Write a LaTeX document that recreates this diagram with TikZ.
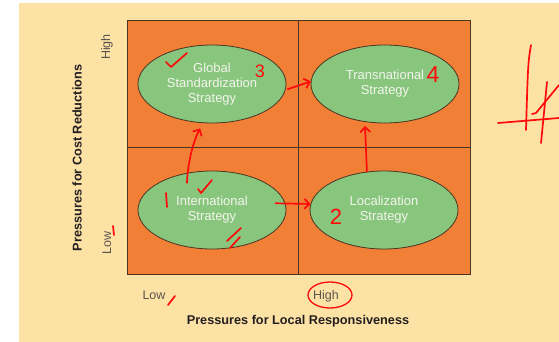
\documentclass[tikz,border=0pt]{standalone}
\usepackage{fontspec}
\setmainfont{Liberation Sans}
\usetikzlibrary{shapes.geometric,arrows.meta}
\definecolor{beige}{HTML}{FDE2A6}
\definecolor{orng}{HTML}{F27F36}
\definecolor{grn}{HTML}{88C67E}
\definecolor{edgebrown}{HTML}{4A3522}
\definecolor{txtw}{HTML}{F4F4EC}
\definecolor{axisgray}{HTML}{5A5550}
\definecolor{ink}{HTML}{FF0A0A}
\definecolor{darktxt}{HTML}{231F20}
\begin{document}
\begin{tikzpicture}[x=1pt,y=-1pt,
  strat/.style={ellipse,draw=edgebrown,fill=grn,line width=0.8pt,minimum width=148pt,minimum height=78pt,inner sep=0pt,align=center,text=txtw,font=\fontsize{13}{15}\selectfont},
  axislabel/.style={font=\fontsize{12.7}{14}\selectfont\bfseries,text=darktxt},
  lvl/.style={font=\fontsize{12.5}{14}\selectfont,text=axisgray},
  pen/.style={draw=ink,line width=1.7pt,line cap=round,line join=round},
  penarrow/.style={pen,-{Straight Barb[length=5pt,width=10pt]}},
  numtxt/.style={text=ink,inner sep=0pt}]
\useasboundingbox (0,0) rectangle (559,342);
\fill[white] (0,0) rectangle (559,342);
\fill[beige] (19,3) rectangle (559,342);
\draw[edgebrown,fill=orng,line width=0.8pt] (127,20) rectangle (470,274);
\draw[edgebrown,line width=0.8pt] (298,20) -- (298,274);
\draw[edgebrown,line width=0.8pt] (127,147) -- (470,147);
\node[strat] (glob) at (212,84) {Global\\Standardization\\Strategy};
\node[strat] (trans) at (385,84) {Transnational\\Strategy};
\node[strat] (intl) at (212,210) {International\\Strategy};
\node[strat] (loc) at (384,210) {Localization\\Strategy};
\node[axislabel,rotate=90] (ylab) at (77,158) {Pressures for Cost Reductions};
\node[axislabel] (xlab) at (298,321) {Pressures for Local Responsiveness};
\node[lvl,rotate=90] (yhigh) at (107,47) {High};
\node[lvl,rotate=90] (ylow) at (107,243) {Low};
\node[lvl] (xlow) at (154,295) {Low};
\node[lvl] (xhigh) at (326,296) {High};
% red annotations
\draw[penarrow,shorten >=6pt] ([yshift=-10pt]intl.124) .. controls +(1,-25) and +(-8,15) .. (glob.257);
\draw[penarrow] ([xshift=2pt]glob.-4) -- (trans.178);
\draw[penarrow] ([xshift=-10pt,yshift=0.3pt]intl.5) -- ([yshift=-0.4pt]loc.175);
\draw[penarrow,shorten >=4pt] (loc.114) -- (trans.242);
\draw[pen] (166,62) -- (171,67) -- (187,53);
\draw[pen] (198,189) -- (201,193) -- (212,180);
\draw[pen] (166,193) -- (167,207);
\draw[pen] (227,241) -- (241,228);
\draw[pen] (230,248) -- (240,237);
\draw[pen] (113,226) -- (114,235);
\draw[pen] (168,305) -- (175,296);
\draw[pen,line width=1.3pt] (330,295) ellipse [x radius=22, y radius=13];
\node[numtxt,font=\fontsize{18}{18}\selectfont] (n3) at (260,71) {3};
\node[numtxt,font=\fontsize{23}{23}\selectfont] (n4) at (433,75) {4};
\node[numtxt,font=\fontsize{22}{22}\selectfont] (n2) at (336,217) {2};
\draw[pen] (531,45) .. controls (528,63) .. (526,130);
\draw[pen] (498,123) -- (559,118);
\draw[pen] (547,82) -- (541,143);
\draw[pen] (532,114) -- (536,113) -- (559,85);
\end{tikzpicture}
\end{document}
